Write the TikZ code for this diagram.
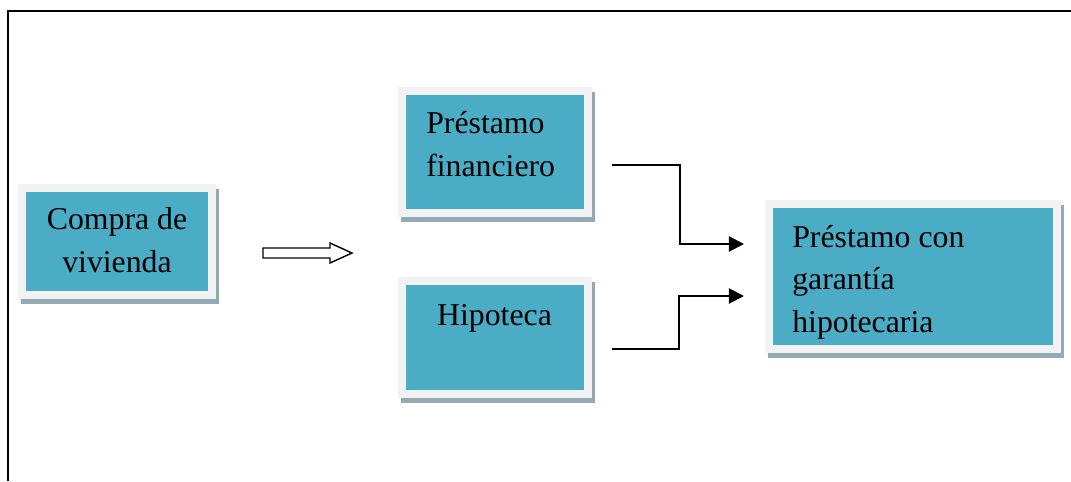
\documentclass[tikz,border=0pt]{standalone}
\usepackage{fontspec}
\setmainfont{Liberation Serif}
\newfontfamily\boxfont{Liberation Serif}
\usetikzlibrary{arrows.meta}
\definecolor{aqua}{HTML}{4BACC6}
\definecolor{panel}{HTML}{F2F2F2}
\definecolor{shade}{HTML}{93AAB4}

\begin{document}
\begin{tikzpicture}[
    x=0.025cm, y=-0.025cm,
    box/.style={draw=panel, line width=5.7pt, fill=aqua, inner sep=0pt,
        preaction={draw=shade, fill=shade, line width=5.7pt,
            transform canvas={xshift=2.1pt, yshift=-3.5pt}}},
    txt/.style={inner sep=0pt, font=\boxfont\fontsize{22.6pt}{30.2pt}\selectfont},
    link/.style={-{Triangle[length=10.7pt, width=10.7pt]}, line width=1.4pt},
    frame/.style={line width=1.8pt}
]
\useasboundingbox (0,0) rectangle (1071,481);

\draw[frame] (8,481) -- (8,11) -- (1071,11);

\node[box, minimum width=4.75cm, minimum height=2.675cm] (compra) at (117,241.5) {};
\node[box, minimum width=4.65cm, minimum height=3.05cm]  (prest)  at (495,152)   {};
\node[box, minimum width=4.65cm, minimum height=2.825cm] (hipo)   at (495,337.5) {};
\node[box, minimum width=7.2cm,  minimum height=3.625cm] (garan)  at (913,276.5) {};

% base of the last line
\node[txt, align=center, anchor=base] (compra-t) at (117,272) {Compra de\\vivienda};
\node[txt, align=left, anchor=base west] (prest-t) at (426,176) {Préstamo\\financiero};
\node[txt, anchor=base] (hipo-t) at (494.5,325) {Hipoteca};
\node[txt, align=left, anchor=base west] (garan-t) at (792,332) {Préstamo con\\garantía\\hipotecaria};

% hollow arrow
\draw[line width=1pt] (263,248) -- (330,248) -- (330,243) -- (352,253)
    -- (330,263) -- (330,258) -- (263,258) -- cycle;

\coordinate (prest-out) at (612,165);
\coordinate (hipo-out)  at (612,349);
\coordinate (garan-in1) at (744,244);
\coordinate (garan-in2) at (744,296);

\draw[link] (prest-out) -- ++(68,0) |- (garan-in1);
\draw[link] (hipo-out) -- ++(67,0) |- (garan-in2);

\end{tikzpicture}
\end{document}
